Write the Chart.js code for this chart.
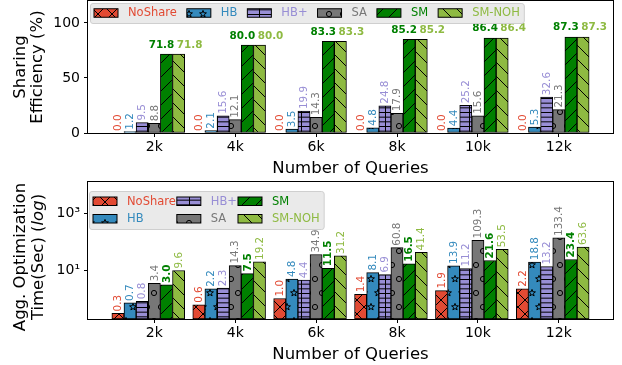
<!DOCTYPE html>
<html lang="en">
<head>
<meta charset="UTF-8">
<title>Sharing Efficiency and Optimization Time</title>
<script src="https://cdn.jsdelivr.net/npm/chart.js"></script>
<style>
  body { margin: 0; background: #fff; }
  #wrap { position: relative; width: 622px; height: 365px; }
  canvas { position: absolute; left: 0; }
  #effChart { top: 0; }
  #timeChart { top: 181px; }
</style>
</head>
<body>
<div id="wrap">
  <canvas id="effChart" width="622" height="181"></canvas>
  <canvas id="timeChart" width="622" height="184"></canvas>
</div>
<script>
const queries = ['2k', '4k', '6k', '8k', '10k', '12k'];
const seriesNames = ['NoShare', 'HB', 'HB+', 'SA', 'SM', 'SM-NOH'];
const seriesColors = ['#E24A33', '#348ABD', '#988ED5', '#777777', '#008000', '#8EBA42'];
const seriesHatch = ['x', '*', '+-', 'o', '/', '\\'];

// sharing efficiency (%)
const effNoShare = [0.0, 0.0, 0.0, 0.0, 0.0, 0.0];
const effHB      = [1.2, 2.1, 3.5, 4.8, 4.4, 5.3];
const effHBPlus  = [9.5, 15.6, 19.9, 24.8, 25.2, 32.6];
const effSA      = [8.8, 12.1, 14.3, 17.9, 15.6, 21.3];
const effSM      = [71.8, 80.0, 83.3, 85.2, 86.4, 87.3];
const effSMNOH   = [71.8, 80.0, 83.3, 85.2, 86.4, 87.3];

// aggregated optimization time (sec)
const timeNoShare = [0.3, 0.6, 1.0, 1.4, 1.9, 2.2];
const timeHB      = [0.7, 2.2, 4.8, 8.1, 13.9, 18.8];
const timeHBPlus  = [0.8, 2.3, 4.4, 6.9, 11.2, 13.2];
const timeSA      = [3.4, 14.3, 34.9, 60.8, 109.3, 133.4];
const timeSM      = [3.0, 7.5, 11.5, 16.5, 21.6, 23.4];
const timeSMNOH   = [9.6, 19.2, 31.2, 41.4, 53.5, 63.6];

const effTicks = [0, 50, 100];
const timeTicks = [10, 1000];

Chart.defaults.font.family = '"DejaVu Sans", sans-serif';
Chart.defaults.color = '#000';

const FONT = '"DejaVu Sans", sans-serif';
const barStep = 0.15;            // bar width in category units
const P = 14;                    // hatch period in px

function starPath(g, cx, cy, ro, ri) {
  for (let k = 0; k < 10; k++) {
    const r = k % 2 ? ri : ro;
    const a = -Math.PI / 2 + k * Math.PI / 5;
    const px = cx + r * Math.cos(a), py = cy + r * Math.sin(a);
    k ? g.lineTo(px, py) : g.moveTo(px, py);
  }
  g.closePath();
}

function makeHatch(color, kind) {
  const c = document.createElement('canvas');
  const shapes = kind === '*' || kind === 'o';
  c.width = P;
  c.height = shapes ? 2 * P : P;
  const g = c.getContext('2d');
  g.fillStyle = color;
  g.fillRect(0, 0, c.width, c.height);
  g.strokeStyle = '#000';
  g.lineWidth = 1;
  g.beginPath();
  if (kind === '/' || kind === 'x') {
    for (let k = -1; k <= 1; k++) { g.moveTo(k * P, P); g.lineTo(k * P + P, 0); }
  }
  if (kind === '\\' || kind === 'x') {
    for (let k = -1; k <= 1; k++) { g.moveTo(k * P, 0); g.lineTo(k * P + P, P); }
  }
  if (kind === '+-') {
    for (let k = 0; k < 3; k++) { const y = k * P / 3 + 0.5; g.moveTo(0, y); g.lineTo(P, y); }
    g.moveTo(P / 2 + 0.5, 0); g.lineTo(P / 2 + 0.5, P);
  }
  g.stroke();
  if (shapes) {
    const pts = [[0, 0], [P, 0], [0, 2 * P], [P, 2 * P], [P / 2, P]];
    for (const [x, y] of pts) {
      g.beginPath();
      if (kind === 'o') g.arc(x, y, 2.6, 0, 2 * Math.PI);
      else starPath(g, x, y, 3.6, 1.5);
      g.stroke();
    }
  }
  return g.createPattern(c, 'repeat');
}

const hatches = seriesColors.map((c, s) => makeHatch(c, seriesHatch[s]));

// bars sit at i + (s - 3) * step, so the tick lines up with SA
const xMinData = -3.5 * barStep;
const xMaxData = queries.length - 1 + 2.5 * barStep;
const xPad = (xMaxData - xMinData) * 0.05;

function buildDatasets(values) {
  return seriesNames.map((name, s) => ({
    label: name,
    data: values[s].map((v, i) => ({ x: i + (s - 3) * barStep, y: v })),
    backgroundColor: hatches[s],
    borderColor: '#000',
    borderWidth: 1,
    borderSkipped: false,
    grouped: false,
    categoryPercentage: 1,
    barPercentage: 1
  }));
}

function drawRotatedLine(ctx, x, cy, segs, size) {
  ctx.save();
  ctx.translate(x, cy);
  ctx.rotate(-Math.PI / 2);
  ctx.textBaseline = 'middle';
  ctx.textAlign = 'left';
  ctx.fillStyle = '#000';
  let total = 0;
  segs.forEach(([t, st]) => { ctx.font = st + ' ' + size + 'px ' + FONT; total += ctx.measureText(t).width; });
  let pos = -total / 2;
  segs.forEach(([t, st]) => {
    ctx.font = st + ' ' + size + 'px ' + FONT;
    ctx.fillText(t, pos, 0);
    pos += ctx.measureText(t).width;
  });
  ctx.restore();
}

function drawLegend(ctx, lg) {
  ctx.save();
  ctx.font = '11.5px ' + FONT;
  const hw = 24, hh = 8.5;
  const colW = lg.cols.map(col => hw + lg.textPad + Math.max(...col.map(s => ctx.measureText(seriesNames[s]).width)));
  const nRows = Math.max(...lg.cols.map(c => c.length));
  const w = 2 * lg.padX + colW.reduce((a, b) => a + b, 0) + lg.colGap * (lg.cols.length - 1);
  const h = 2 * lg.padY + nRows * lg.rowH;
  ctx.beginPath();
  ctx.roundRect(lg.x + 0.5, lg.y + 0.5, w, h, 2.5);
  ctx.fillStyle = 'rgba(232,232,232,0.93)';
  ctx.fill();
  ctx.strokeStyle = '#cfcfcf';
  ctx.lineWidth = 1;
  ctx.stroke();
  let x = lg.x + lg.padX;
  lg.cols.forEach((col, c) => {
    col.forEach((s, r) => {
      const yc = lg.y + lg.padY + r * lg.rowH + lg.rowH / 2;
      ctx.fillStyle = hatches[s];
      ctx.fillRect(x, yc - hh / 2, hw, hh);
      ctx.strokeStyle = '#000';
      ctx.strokeRect(x, yc - hh / 2, hw, hh);
      ctx.fillStyle = seriesColors[s];
      ctx.textBaseline = 'middle';
      ctx.textAlign = 'left';
      ctx.fillText(seriesNames[s], x + hw + lg.textPad, yc + 0.5);
    });
    x += colW[c] + lg.colGap;
  });
  ctx.restore();
}

function decor(cfg) {
  return {
    id: 'decor',
    afterDatasetsDraw(chart) {
      const ctx = chart.ctx;
      chart.data.datasets.forEach((ds, s) => {
        chart.getDatasetMeta(s).data.forEach((bar, i) => {
          const text = ds.data[i].y.toFixed(1);
          const flat = cfg.flat[s];
          ctx.save();
          ctx.fillStyle = seriesColors[s];
          ctx.font = (cfg.bold[s] ? 'bold ' : '') + '10.4px ' + FONT;
          if (flat !== undefined) {
            ctx.textAlign = 'center';
            ctx.textBaseline = 'bottom';
            ctx.fillText(text, bar.x + flat, bar.y - 4);
          } else {
            ctx.translate(bar.x + 0.5, bar.y - 2);
            ctx.rotate(-Math.PI / 2);
            ctx.textAlign = 'left';
            ctx.textBaseline = 'middle';
            ctx.fillText(text, 0, 0);
          }
          ctx.restore();
        });
      });
    },
    afterDraw(chart) {
      const ctx = chart.ctx;
      const a = chart.chartArea;
      drawLegend(ctx, cfg.legend);
      ctx.save();
      ctx.strokeStyle = '#000';
      ctx.lineWidth = 1;
      ctx.strokeRect(Math.round(a.left) - 0.5, Math.round(a.top) - 0.5,
        Math.round(a.right - a.left) + 1, Math.round(a.bottom - a.top) + 1);
      ctx.restore();
      const cy = (a.top + a.bottom) / 2;
      cfg.yTitle.forEach((segs, k) => drawRotatedLine(ctx, cfg.yTitleX[k], cy + cfg.yTitleDy, segs, 16.5));
    }
  };
}

// fixed axis boxes, without the half-label overhang Chart.js reserves
function fixBox(size) {
  return sc => {
    if (sc.isHorizontal()) sc.height = size; else sc.width = size;
    sc.paddingTop = 0;
    sc.paddingBottom = 0;
    sc.paddingLeft = 0;
    sc.paddingRight = 0;
  };
}

function xScale(height, titleBottom) {
  return {
    type: 'linear',
    min: xMinData - xPad,
    max: xMaxData + xPad,
    offset: false,
    afterBuildTicks: sc => { sc.ticks = queries.map((q, i) => ({ value: i })); },
    ticks: { callback: v => queries[v], font: { size: 14 }, color: '#000', padding: 2, maxRotation: 0, autoSkip: false },
    grid: { display: true, drawOnChartArea: false, drawTicks: true, tickLength: 4, color: '#000', offset: false },
    border: { display: false },
    title: { display: true, text: 'Number of Queries', font: { size: 16.5 }, color: '#000', padding: { top: 0, bottom: titleBottom } },
    afterFit: fixBox(height)
  };
}

function yGrid() {
  return { display: true, drawOnChartArea: false, drawTicks: true, tickLength: 4, color: '#000' };
}

const effChart = new Chart(document.getElementById('effChart'), {
  type: 'bar',
  data: { datasets: buildDatasets([effNoShare, effHB, effHBPlus, effSA, effSM, effSMNOH]) },
  options: {
    responsive: false,
    animation: false,
    events: [],
    layout: { padding: { left: 0, right: 9, top: 1, bottom: 0 } },
    plugins: { legend: { display: false }, tooltip: { enabled: false } },
    scales: {
      x: xScale(48, 2),
      y: {
        min: 0,
        max: 120,
        afterBuildTicks: sc => { sc.ticks = effTicks.map(v => ({ value: v })); },
        ticks: { font: { size: 14 }, color: '#000', padding: 4 },
        grid: yGrid(),
        border: { display: false },
        afterFit: fixBox(88)
      }
    }
  },
  plugins: [decor({
    flat: { 4: -5, 5: 11 },
    bold: [false, false, false, false, true, true],
    legend: { x: 90, y: 3, padX: 4, padY: 3, rowH: 14, textPad: 10, colGap: 10, cols: [[0], [1], [2], [3], [4], [5]] },
    yTitle: [[['Sharing', '']], [['Efficiency (%)', '']]],
    yTitleX: [21, 38],
    yTitleDy: 0
  })]
});

const supDigits = { '0': '⁰', '1': '¹', '2': '²', '3': '³', '4': '⁴', '-': '⁻' };

const timeChart = new Chart(document.getElementById('timeChart'), {
  type: 'bar',
  data: { datasets: buildDatasets([timeNoShare, timeHB, timeHBPlus, timeSA, timeSM, timeSMNOH]) },
  options: {
    responsive: false,
    animation: false,
    events: [],
    layout: { padding: { left: 0, right: 9, top: 1, bottom: 0 } },
    plugins: { legend: { display: false }, tooltip: { enabled: false } },
    scales: {
      x: xScale(46, 0),
      y: {
        type: 'logarithmic',
        min: Math.pow(10, -0.719),
        max: Math.pow(10, 4.088),
        afterBuildTicks: sc => { sc.ticks = timeTicks.map(v => ({ value: v })); },
        ticks: {
          font: { size: 14 }, color: '#000', padding: 4,
          callback: v => '10' + String(Math.round(Math.log10(v))).split('').map(d => supDigits[d]).join('')
        },
        grid: yGrid(),
        border: { display: false },
        afterFit: fixBox(88)
      }
    }
  },
  plugins: [decor({
    flat: {},
    bold: [false, false, false, false, true, false],
    legend: { x: 89, y: 10, padX: 4, padY: 1.5, rowH: 17.5, textPad: 10, colGap: 1, cols: [[0, 1], [2, 3], [4, 5]] },
    yTitle: [[['Agg. Optimization', '']], [['Time(Sec) (', ''], ['log', 'italic'], [')', '']]],
    yTitleX: [21, 39],
    yTitleDy: 6.5
  })]
});
</script>
</body>
</html>
